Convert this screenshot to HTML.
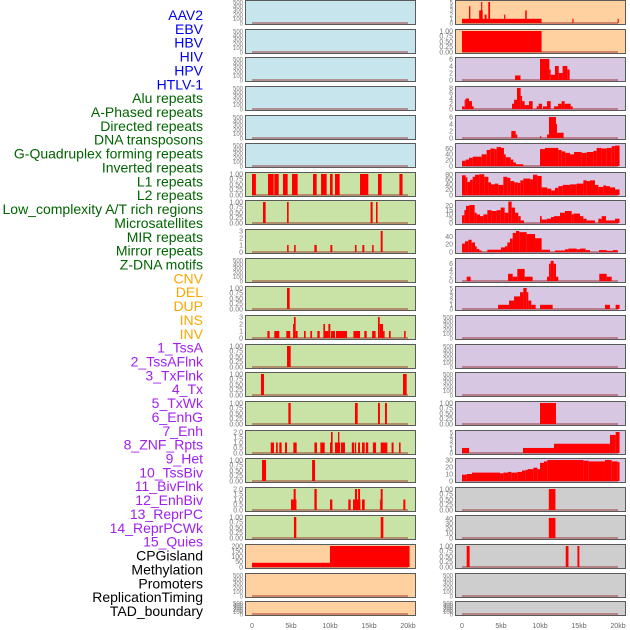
<!DOCTYPE html>
<html><head><meta charset="utf-8"><style>
html,body{margin:0;padding:0;background:#fff;width:630px;height:630px;overflow:hidden}
svg{display:block;font-family:"Liberation Sans",sans-serif}
</style></head><body>
<svg id="chart" width="630" height="630" viewBox="0 0 630 630" xmlns="http://www.w3.org/2000/svg">
<g id="labels"></g>
<g id="panels"></g>
<g id="xaxis"></g>
</svg>
<script>
const labelNames=["AAV2","EBV","HBV","HIV","HPV","HTLV-1","Alu repeats","A-Phased repeats","Directed repeats","DNA transposons","G-Quadruplex forming repeats","Inverted repeats","L1 repeats","L2 repeats","Low_complexity A/T rich regions","Microsatellites","MIR repeats","Mirror repeats","Z-DNA motifs","CNV","DEL","DUP","INS","INV","1_TssA","2_TssAFlnk","3_TxFlnk","4_Tx","5_TxWk","6_EnhG","7_Enh","8_ZNF_Rpts","9_Het","10_TssBiv","11_BivFlnk","12_EnhBiv","13_ReprPC","14_ReprPCWk","15_Quies","CPGisland","Methylation","Promoters","ReplicationTiming","TAD_boundary"];
const labelGroups=[6,13,5,15,5];
const groupColors=["#0000ee","#006400","#ffa500","#a020f0","#000000"];
const xTicks=[0,5,10,15,20];
const xTickLabels=["0","5kb","10kb","15kb","20kb"];
const rowTops=[0,29,57,86,115,143,172,200,229,258,286,315,344,372,401,430,458,487,515,544,573,601];

const L6=[[0,0.5,1],[2.05,2.78,1],[2.86,3.42,1],[3.97,4.57,1],[5.13,5.85,1],[7.82,8.29,1],[8.85,9.57,1],[10,10.34,1],[10.64,11.24,1],[13.85,14.91,1],[16.15,16.62,1],[18.9,19.3,1]];
const L7=[[1.41,1.75,1],[4.49,4.7,1],[15.2,15.47,1],[15.9,16.1,1]];
const L8=[[4.5,4.7,1],[5.4,5.6,1],[8,8.3,1],[10.05,10.3,1],[13.2,13.4,1],[14.15,14.4,1],[15.4,15.6,1],[16.5,16.75,3]];
const L10=[[4.49,4.83,1]];
const L11=[[1.97,2.26,1],[2.86,3.5,1],[4.4,4.9,1],[5.26,5.38,2],[5.38,5.6,3],[5.6,5.85,1],[6.67,6.88,1],[7.48,7.7,1],[8.38,8.68,1],[9.15,9.36,2],[9.36,9.79,1],[9.79,10.04,2],[10.13,10.64,1],[10.77,12.18,1],[13,13.85,1],[14.4,14.7,1],[15.4,15.85,1],[16.15,16.37,3],[16.37,16.8,2],[16.8,17,1],[17.56,17.78,1],[19.5,19.7,1]];
const L12=[[4.49,4.96,1]];
const L13=[[1.15,1.54,1],[19.36,19.83,1]];
const L14=[[4.66,4.96,1],[13.2,13.55,1],[16.15,16.4,1],[17.05,17.3,1]];
const L15=[[2.4,2.82,1],[3.08,3.3,1],[3.5,3.8,1],[4.23,4.49,1],[5.3,5.73,1],[8,8.33,1],[8.76,9.32,1],[10,10.13,1],[10.13,10.34,2],[10.64,11.28,1],[11.03,11.2,2],[11.4,11.92,1],[12.8,13.1,1],[13.2,13.35,1],[13.6,13.85,1],[14.1,14.45,1],[14.6,14.9,1],[15.5,15.9,1],[16.5,17.35,1],[17.9,18.15,1],[18.85,19.05,1]];
const L16=[[1.28,1.8,1],[7.7,8.08,1]];
const L17=[[5,5.7,1],[5.34,5.6,2],[8,8.3,2],[10,10.3,1],[12.35,12.65,1],[12.95,13.9,1],[13.2,13.46,2],[13.6,13.85,2],[14.1,14.45,1],[16.4,16.5,1],[16.5,16.75,2],[19.4,19.66,1]];
const L18=[[5.38,5.68,1],[16.5,16.84,1]];
const L19=[[0,10,40],[10,20.2,200]];

const R0=[[0,10.2,1],[0.9,1.07,4],[2.2,2.65,3],[2.45,2.6,5],[2.9,3.15,2],[3.37,3.6,5],[5.4,5.55,2],[8.1,8.3,3],[14.15,14.3,1],[19.95,20.1,1]];
const R1=[[0,10.2,1]];
const R2=[[6.8,7.5,1.3],[10,11.2,6],[11.2,11.37,3],[11.37,11.92,1.5],[11.92,12.4,4],[12.4,12.9,2],[12.9,13.5,4],[13.5,13.8,3]];
const R3=[[0,0.34,1],[0.34,0.47,3.5],[0.47,0.9,4],[0.9,1.28,3],[1.28,1.5,1],[6.41,6.67,2],[6.67,7.05,3.5],[7.05,7.52,8],[7.52,7.7,5],[7.7,8.03,3],[8.03,8.59,1.5],[8.59,9.06,3],[9.57,9.83,1],[9.83,10.26,2],[10.38,10.9,1],[10.9,11.37,3],[11.79,12.31,1],[12.31,12.78,2],[12.78,13.16,3],[13.16,13.93,2],[13.93,14.19,1]];
const R4=[[6.32,6.88,2],[6.88,7.09,1],[10,10.17,0.5],[10.9,11.15,1],[11.15,12.05,6],[12.05,12.18,4],[12.18,13.03,1.5]];
const R5edges=[0,0.47,0.9,1.37,2.52,3.16,3.63,4.19,4.44,5.0,5.38,5.6,6.24,6.58,6.92,7.86,10,10.64,12.35,12.78,13.25,13.85,14.36,15.34,15.98,16.84,17.26,17.9,18.55,19.19,19.6,20.2];
const R5vals=[18,22,28,32,40,55,60,58,65,62,40,30,22,12,6,0,58,62,55,50,45,40,48,45,48,52,62,60,62,68,70];
const R6edges=[0,0.47,0.68,1.03,1.37,1.67,2.22,2.86,3.38,3.72,4.23,4.66,5.3,5.81,6.2,6.71,7.14,7.48,7.86,8.72,9.1,9.66,10.21,10.94,11.45,11.92,12.35,12.91,13.85,14.7,15.56,15.98,16.41,17.05,17.48,18.12,18.46,18.97,19.62,20.2];
const R6vals=[78,70,52,60,72,80,82,72,50,42,45,40,72,68,55,50,48,58,65,62,80,75,30,25,18,28,35,40,42,45,58,55,58,40,32,38,35,30,22];
const R7edges=[0,0.3,0.51,0.94,1.62,1.88,2.31,2.74,3.25,3.8,4.44,4.96,5.47,5.94,6.37,6.79,7.22,7.52,7.95,10,10.21,10.85,11.41,11.79,12.56,13.2,14.06,14.27,15.13,15.56,15.98,17.05,17.48,17.91,18.46,19.62,20.2];
const R7vals=[9,15,20,21,12,10,8,10,15,14,15,18,12,25,18,12,8,3,0,8,4,5,7,8,12,14,10,11,8,5,3,0,5,8,3,5];
const R8edges=[0,0.38,0.81,1.24,1.67,1.88,2.22,2.52,3.25,5.0,5.51,5.81,6.15,6.5,6.92,7.35,8.29,9.36,10.21,11.28,11.92,13.2,13.63,14.7,15.13,15.85,16.41,17.56,18.55,19.32,19.96];
const R8vals=[22,28,32,25,15,8,4,0,6,12,15,25,35,50,55,52,47,36,6,0,4,7,9,7,9,5,0,5,3,5];
const R9=[[0.6,1.11,1.5],[5.9,6.5,2.5],[6.5,7.09,1.5],[7.09,8.03,4.2],[8.03,9.06,1.5],[10.9,11.15,1.5],[11.15,11.37,6],[11.37,11.75,7],[11.75,12.05,6],[12.05,12.35,1.5],[17.6,18.55,2.5],[18.55,19.19,1.5]];
const R10=[[4.62,6.03,1],[6.03,6.67,2],[6.67,7.44,3],[7.44,7.86,4],[7.86,8.29,5],[8.29,8.5,4],[8.5,8.89,2],[8.89,9.44,1],[10,11.62,1],[18.33,18.97,1],[19.7,20.2,1]];
const R14=[[10,12.05,1]];
const R15=[[0,0.9,1.2],[7.82,11.79,1.2],[11.79,18.97,2.2],[18.97,19.7,4.3],[19.7,20.2,5]];
const R16edges=[0,0.6,1.28,4.87,5.3,5.9,6.32,7.09,7.69,8.12,8.46,9.15,9.66,10,10.51,10.94,15.56,16.24,18.33,19.19,19.96,20.2];
const R16vals=[9,10,12,11,12,13,12,13,15,16,17,19,17,26,28,30,29,28,30,28,27];
const R17=[[11.13,11.98,1]];
const R18=[[11.13,11.98,42]];
const R19=[[0.6,0.98,1],[13.3,13.65,1],[14.8,15.05,1]];

const T500=["0","100","200","300","400","500"], T1=["0.00","0.25","0.50","0.75","1.00"], T2=["0.0","0.5","1.0","1.5","2.0"];
const T3=["0","1","2","3"], T5=["0","1","2","3","4","5"], T6=["0","2","4","6"], T8=["0","2","4","6","8"];
const BLUE="#c7e5ed",GREEN="#c9e2a5",ORANGE="#ffd1a0",PURPLE="#d7c7e3",GREY="#cecece";
function stepSegs(e,v){const s=[];for(let i=0;i<v.length&&i+1<e.length;i++)s.push([e[i],e[i+1],v[i]]);return s;}
function P(bg,ticks,tmax,max,segs){return {bg,ticks,tmax,max,segs};}
const leftPanels=[
P(BLUE,T500,500,500,[]),P(BLUE,T500,500,500,[]),P(BLUE,T500,500,500,[]),P(BLUE,T500,500,500,[]),P(BLUE,T500,500,500,[]),P(BLUE,T500,500,500,[]),
P(GREEN,T1,1,1,L6),P(GREEN,T1,1,1,L7),P(GREEN,T3,3,3,L8),P(GREEN,T500,500,500,[]),P(GREEN,T1,1,1,L10),P(GREEN,T3,3,3,L11),
P(GREEN,T1,1,1,L12),P(GREEN,T1,1,1,L13),P(GREEN,T1,1,1,L14),P(GREEN,T2,2,2,L15),P(GREEN,T1,1,1,L16),P(GREEN,T2,2,2,L17),P(GREEN,T1,1,1,L18),
P(ORANGE,["0","50","100","150","200"],200,200,L19),P(ORANGE,T500,500,500,[]),P(ORANGE,T500,500,500,[])];
const rightPanels=[
P(ORANGE,T5,5,5,R0),P(ORANGE,T1,1,1,R1),P(PURPLE,T6,6,6,R2),P(PURPLE,T8,8,8,R3),P(PURPLE,T6,6,6,R4),
P(PURPLE,["0","20","40","60"],60,72,stepSegs(R5edges,R5vals)),P(PURPLE,["0","20","40","60","80"],80,83,stepSegs(R6edges,R6vals)),
P(PURPLE,["0","5","10","15","20"],20,24.5,stepSegs(R7edges,R7vals)),P(PURPLE,["0","20","40"],40,55,stepSegs(R8edges,R8vals)),
P(PURPLE,T6,6,7.3,R9),P(PURPLE,T5,5,5,R10),P(PURPLE,T500,500,500,[]),P(PURPLE,T500,500,500,[]),P(PURPLE,T500,500,500,[]),
P(PURPLE,T1,1,1,R14),P(PURPLE,T5,5,5,R15),P(PURPLE,["0","10","20","30"],30,30,stepSegs(R16edges,R16vals)),
P(GREY,T1,1,1,R17),P(GREY,["0","10","20","30","40"],40,44,R18),P(GREY,T1,1,1,R19),P(GREY,T500,500,500,[]),P(GREY,T500,500,500,[])];

const NS="http://www.w3.org/2000/svg";
function mk(tag,attrs,parent){const el=document.createElementNS(NS,tag);for(const k in attrs)el.setAttribute(k,attrs[k]);parent.appendChild(el);return el;}

const lg=document.getElementById('labels');
let gi=0,gc=0;
labelNames.forEach((n,i)=>{
  const t=mk('text',{x:203,y:(15+i*13.86+5).toFixed(1),'text-anchor':'end','font-size':14,fill:groupColors[gi]},lg);
  
  
  t.textContent=n;
  gc++; if(gc>=labelGroups[gi]){gi++;gc=0;}
});

const pg=document.getElementById('panels');
function drawColumn(panels,px,pw,x0,x1,col){
  const sx=kb=>x0+kb/20*(x1-x0);
  panels.forEach((p,i)=>{
    const top=rowTops[i], h=(i===rowTops.length-1)?15:25, bot=top+h;
    const g=mk('g',{},pg);
    
    
    const sy=v=>bot-2-v/p.max*(h-4);
    mk('rect',{x:px,y:top,width:pw,height:h,fill:p.bg},g);
    const base=mk('rect',{x:sx(0),y:sy(0)-1,width:sx(20)-sx(0),height:2,fill:'rgba(150,40,40,0.45)'},g);
    
    
    p.segs.forEach(s=>{
      if(s[2]<=0)return;
      const r=mk('rect',{x:sx(s[0]).toFixed(2),y:sy(s[2]).toFixed(2),width:Math.max(0.8,sx(s[1])-sx(s[0])).toFixed(2),height:(sy(0)-sy(s[2])).toFixed(2),fill:'#ff0000'},g);
      
      
    });
    mk('rect',{x:px+0.5,y:top+0.5,width:pw-1,height:h-1,fill:'none',stroke:'#5a5a5a','stroke-width':1},g);
    const n=p.ticks.length;
    const fs=n>=6?6:7;
    p.ticks.forEach((tl,k)=>{
      const v=p.tmax*k/(n-1);
      const t=mk('text',{x:px-2,y:(sy(v)+2.3).toFixed(1),'text-anchor':'end','font-size':fs,fill:'#777'},g);
      
      
      t.textContent=tl;
    });
  });
  const xg=document.getElementById('xaxis');
  xTicks.forEach((v,k)=>{
    const t=mk('text',{x:sx(v),y:628,'text-anchor':'middle','font-size':7,fill:'#666'},xg);
    
    
    t.textContent=xTickLabels[k];
  });
}
drawColumn(leftPanels,245,171,252,408,'left');
drawColumn(rightPanels,455,171,462,618,'right');
</script>
</body></html>
